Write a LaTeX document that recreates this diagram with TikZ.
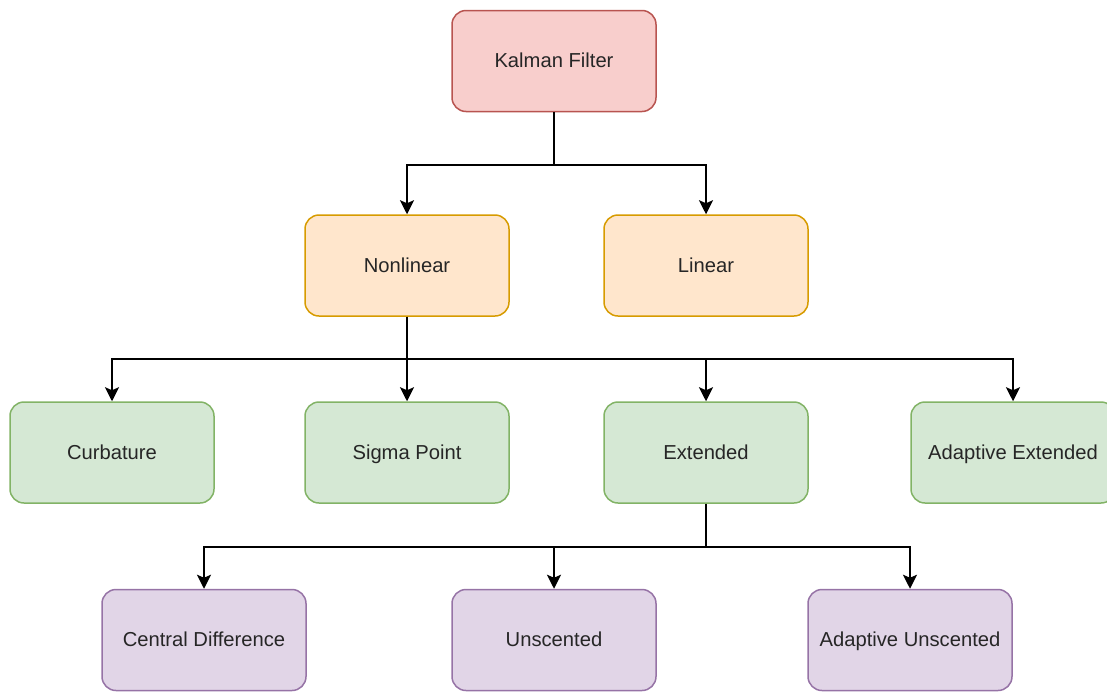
\documentclass[tikz,border=0pt]{standalone}
\usepackage{fontspec}
\setmainfont{Liberation Sans}
\usetikzlibrary{arrows.meta}

\definecolor{redfill}{HTML}{F8CECC}
\definecolor{redline}{HTML}{B85450}
\definecolor{orangefill}{HTML}{FFE6CC}
\definecolor{orangeline}{HTML}{D79B00}
\definecolor{greenfill}{HTML}{D5E8D4}
\definecolor{greenline}{HTML}{82B366}
\definecolor{purplefill}{HTML}{E1D5E7}
\definecolor{purpleline}{HTML}{9673A6}

\begin{document}
\begin{tikzpicture}[x=1pt,y=-1pt,
  box/.style={draw,rounded corners=14pt,line width=1.5pt,minimum width=204pt,
    minimum height=101pt,inner sep=0pt,text=black!85,text height=14.5pt,
    text depth=1pt,font=\fontsize{20.2}{24}\selectfont},
  redbox/.style={box,fill=redfill,draw=redline},
  orangebox/.style={box,fill=orangefill,draw=orangeline},
  greenbox/.style={box,fill=greenfill,draw=greenline},
  purplebox/.style={box,fill=purplefill,draw=purpleline},
  conn/.style={line width=2pt,-{Stealth[length=14pt,width=14pt,inset=3pt]}}]
\useasboundingbox (0,0) rectangle (1107,691);
\begin{scope}
\clip (0,0) rectangle (1107,691);
\node[redbox] (kf) at (554,61) {Kalman Filter};
\node[orangebox] (nl) at (407,265.5) {Nonlinear};
\node[orangebox] (lin) at (706,265.5) {Linear};
\node[greenbox] (cur) at (112,452.5) {Curbature};
\node[greenbox] (sig) at (407,452.5) {Sigma Point};
\node[greenbox] (ext) at (706,452.5) {Extended};
\node[greenbox] (ae) at (1013,452.5) {Adaptive Extended};
\node[purplebox] (cd) at (204,640) {Central Difference};
\node[purplebox] (uns) at (554,640) {Unscented};
\node[purplebox] (au) at (910,640) {Adaptive Unscented};
\end{scope}
% first level
\draw[conn] (kf.south) -- ++(0,53) -| (nl);
\draw[conn] (kf.south) -- ++(0,53) -| (lin);
% second level
\draw[conn] (nl.south) -- ++(0,42) -| (cur);
\draw[conn] (nl.south) -- ++(0,42) -| (sig);
\draw[conn] (nl.south) -- ++(0,42) -| (ext);
\draw[conn] (nl.south) -- ++(0,42) -| (ae);
% third level
\draw[conn] (ext.south) -- ++(0,43) -| (cd);
\draw[conn] (ext.south) -- ++(0,43) -| (uns);
\draw[conn] (ext.south) -- ++(0,43) -| (au);
\end{tikzpicture}
\end{document}
